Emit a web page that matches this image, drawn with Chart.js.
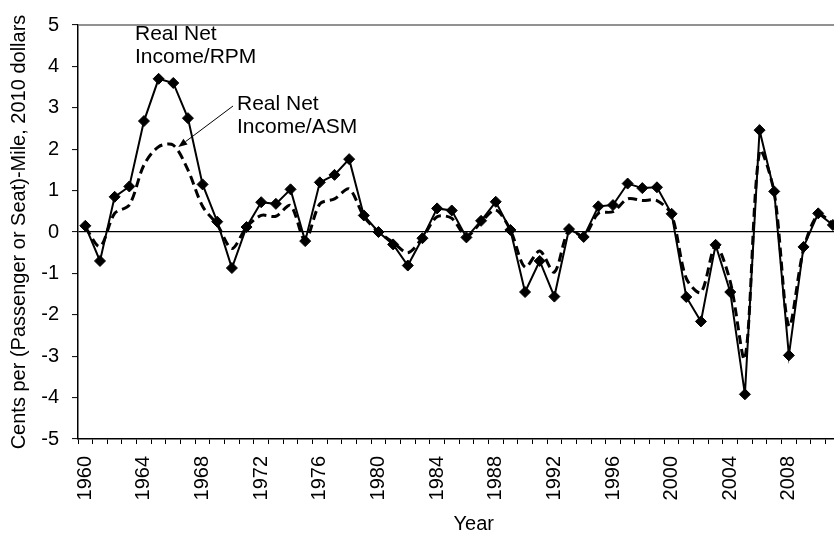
<!DOCTYPE html>
<html>
<head>
<meta charset="utf-8">
<script src="https://cdn.jsdelivr.net/npm/chart.js@4/dist/chart.umd.min.js"></script>
<style>
  html, body { margin: 0; padding: 0; background: #fff; overflow: hidden; }
  #frame { width: 834px; height: 537px; overflow: hidden; position: relative; }
  #chart { position: absolute; left: 0; top: 0; }
</style>
</head>
<body>
<div id="frame"><canvas id="chart" width="876" height="537"></canvas></div>
<script>
// Years on the category axis (the last two have no data yet)
const years = [
  '1960','1961','1962','1963','1964','1965','1966','1967','1968','1969',
  '1970','1971','1972','1973','1974','1975','1976','1977','1978','1979',
  '1980','1981','1982','1983','1984','1985','1986','1987','1988','1989',
  '1990','1991','1992','1993','1994','1995','1996','1997','1998','1999',
  '2000','2001','2002','2003','2004','2005','2006','2007','2008','2009',
  '2010','2011','2012','2013'
];

// Real net income per revenue passenger-mile, cents (2010 dollars)
const netIncomePerRPM = [
  0.15, -0.70, 0.85, 1.10, 2.68, 3.70, 3.60, 2.75, 1.15, 0.25,
  -0.87, 0.12, 0.72, 0.68, 1.03, -0.22, 1.20, 1.38, 1.76, 0.40,
  0.00, -0.30, -0.81, -0.15, 0.57, 0.52, -0.13, 0.27, 0.73, 0.05,
  -1.45, -0.70, -1.56, 0.07, -0.12, 0.62, 0.65, 1.17, 1.06, 1.08,
  0.44, -1.57, -2.16, -0.31, -1.45, -3.92, 2.46, 0.98, -2.98, -0.36,
  0.45, 0.17, null, null
];

// Real net income per available seat-mile, cents (2010 dollars)
const netIncomePerASM = [
  0.12, -0.35, 0.45, 0.65, 1.62, 2.06, 2.10, 1.50, 0.62, 0.18,
  -0.40, 0.12, 0.40, 0.38, 0.64, -0.20, 0.68, 0.80, 1.04, 0.38,
  0.00, -0.25, -0.50, -0.14, 0.37, 0.33, -0.10, 0.24, 0.53, 0.05,
  -0.85, -0.46, -0.97, 0.05, -0.10, 0.45, 0.49, 0.80, 0.76, 0.76,
  0.41, -1.12, -1.46, -0.33, -1.20, -3.05, 1.95, 0.95, -2.27, -0.42,
  0.42, 0.20, null, null
];

const yTicks = [-5, -4, -3, -2, -1, 0, 1, 2, 3, 4, 5];

const FONT = '"Liberation Sans", Arial, Helvetica, sans-serif';

// Plot frame line along the top of the plotting area
const frameLine = {
  id: 'frameLine',
  afterDraw(chart) {
    const { ctx, chartArea: a } = chart;
    ctx.save();
    ctx.strokeStyle = '#6e6e6e';
    ctx.lineWidth = 1.5;
    ctx.beginPath();
    ctx.moveTo(a.left, a.top);
    ctx.lineTo(a.right, a.top);
    ctx.stroke();
    ctx.restore();
  }
};

// Series call-outs: labels plus an arrow to the ASM curve
const callouts = {
  id: 'callouts',
  afterDatasetsDraw(chart) {
    const { ctx, scales: { x, y } } = chart;
    ctx.save();
    ctx.fillStyle = '#000';
    ctx.font = '21px ' + FONT;
    ctx.textAlign = 'left';
    ctx.textBaseline = 'alphabetic';
    ctx.fillText('Real Net', 135, 40);
    ctx.fillText('Income/RPM', 135, 63);
    ctx.fillText('Real Net', 237, 110);
    ctx.fillText('Income/ASM', 237, 133);

    const i = years.indexOf('1966');
    const tipX = x.getPixelForValue(i) + 5;
    const tipY = y.getPixelForValue(netIncomePerASM[i]) + 2;
    const fromX = 233, fromY = 106;
    const ang = Math.atan2(tipY - fromY, tipX - fromX);
    const len = 9, half = 3.5;
    ctx.strokeStyle = '#000';
    ctx.lineWidth = 1;
    ctx.beginPath();
    ctx.moveTo(fromX, fromY);
    ctx.lineTo(tipX - Math.cos(ang) * len, tipY - Math.sin(ang) * len);
    ctx.stroke();
    ctx.beginPath();
    ctx.moveTo(tipX, tipY);
    ctx.lineTo(tipX - Math.cos(ang) * len - Math.sin(ang) * half, tipY - Math.sin(ang) * len + Math.cos(ang) * half);
    ctx.lineTo(tipX - Math.cos(ang) * len + Math.sin(ang) * half, tipY - Math.sin(ang) * len - Math.cos(ang) * half);
    ctx.closePath();
    ctx.fill();
    ctx.restore();
  }
};

new Chart(document.getElementById('chart'), {
  type: 'line',
  data: {
    labels: years,
    datasets: [
      {
        label: 'Real Net Income/RPM',
        data: netIncomePerRPM,
        borderColor: '#000',
        backgroundColor: '#000',
        borderWidth: 2,
        tension: 0,
        pointStyle: 'rectRot',
        pointRadius: 5.5,
        pointBorderWidth: 1,
        pointBackgroundColor: '#000',
        pointBorderColor: '#000',
        spanGaps: false
      },
      {
        label: 'Real Net Income/ASM',
        data: netIncomePerASM,
        borderColor: '#000',
        borderWidth: 3,
        borderDash: [9, 5],
        tension: 0.3,
        pointRadius: 0,
        spanGaps: false
      }
    ]
  },
  options: {
    responsive: false,
    animation: false,
    layout: { padding: { left: 0, right: 0, top: 15, bottom: 0 } },
    plugins: {
      legend: { display: false },
      tooltip: { enabled: false }
    },
    scales: {
      x: {
        type: 'category',
        offset: true,
        grid: {
          offset: true,
          drawOnChartArea: false,
          drawTicks: true,
          tickLength: 5,
          tickColor: '#000',
          tickWidth: 1
        },
        border: { display: true, color: '#000', width: 1.5 },
        ticks: {
          autoSkip: false,
          minRotation: 90,
          maxRotation: 90,
          padding: 12,
          color: '#000',
          font: { family: FONT, size: 20 },
          callback(value, index) {
            const yr = parseInt(years[index], 10);
            return (yr - 1960) % 4 === 0 ? years[index] : '';
          }
        },
        title: {
          display: true,
          text: 'Year',
          color: '#000',
          font: { family: FONT, size: 20 },
          padding: { top: 0, bottom: 1 }
        },
        afterFit(scale) {
          scale.height = 98;
          scale.paddingLeft = 0;
          scale.paddingRight = 0;
        }
      },
      y: {
        min: yTicks[0],
        max: yTicks[yTicks.length - 1],
        afterBuildTicks(scale) { scale.ticks = yTicks.map(v => ({ value: v })); },
        grid: {
          color: (c) => (c.tick && c.tick.value === 0 ? '#000' : 'rgba(0,0,0,0)'),
          lineWidth: 1.2,
          drawTicks: true,
          tickLength: 6,
          tickColor: '#000',
          tickWidth: 1
        },
        border: { display: true, color: '#000', width: 1.5 },
        ticks: {
          padding: 13,
          color: '#000',
          font: { family: FONT, size: 20 }
        },
        title: {
          display: true,
          text: 'Cents per (Passenger or Seat)-Mile, 2010 dollars',
          color: '#000',
          font: { family: FONT, size: 20 },
          padding: { top: 7, bottom: 0 }
        },
        afterFit(scale) { scale.width = 78; }
      }
    }
  },
  plugins: [frameLine, callouts]
});
</script>
</body>
</html>
